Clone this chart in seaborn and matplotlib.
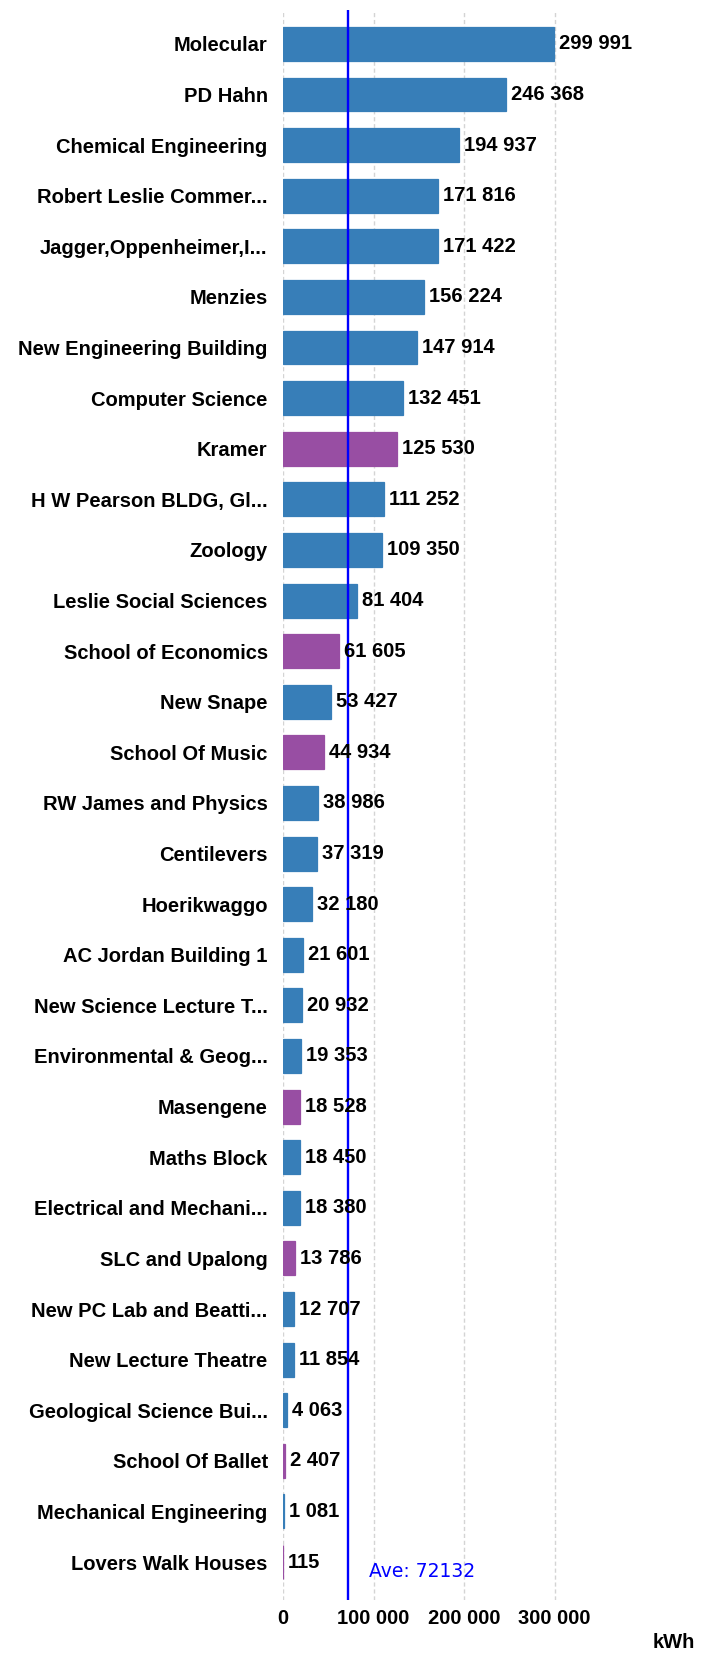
import numpy as np
import pandas as pd
import matplotlib
matplotlib.use("Agg")
import matplotlib.pyplot as plt
import seaborn as sns

buildings = [
    "Molecular", "PD Hahn", "Chemical Engineering", "Robert Leslie Commer...",
    "Jagger,Oppenheimer,I...", "Menzies", "New Engineering Building",
    "Computer Science", "Kramer", "H W Pearson BLDG, Gl...", "Zoology",
    "Leslie Social Sciences", "School of Economics", "New Snape",
    "School Of Music", "RW James and Physics", "Centilevers", "Hoerikwaggo",
    "AC Jordan Building 1", "New Science Lecture T...", "Environmental & Geog...",
    "Masengene", "Maths Block", "Electrical and Mechani...", "SLC and Upalong",
    "New PC Lab and Beatti...", "New Lecture Theatre", "Geological Science Bui...",
    "School Of Ballet", "Mechanical Engineering", "Lovers Walk Houses",
]
kwh = [
    299991, 246368, 194937, 171816, 171422, 156224, 147914, 132451, 125530,
    111252, 109350, 81404, 61605, 53427, 44934, 38986, 37319, 32180, 21601,
    20932, 19353, 18528, 18450, 18380, 13786, 12707, 11854, 4063, 2407, 1081, 115,
]
group = [
    "a", "a", "a", "a", "a", "a", "a", "a", "b", "a", "a", "a", "b", "a", "b",
    "a", "a", "a", "a", "a", "a", "b", "a", "a", "b", "a", "a", "a", "b", "a", "b",
]
average = 72132
x_ticks = [0, 100000, 200000, 300000]

df = pd.DataFrame({"building": buildings, "kwh": kwh, "group": group})

sns.set_style("white")
plt.rcParams["font.family"] = ["Liberation Sans", "DejaVu Sans"]
plt.rcParams["text.color"] = "black"
plt.rcParams["xtick.labelcolor"] = "black"
plt.rcParams["ytick.labelcolor"] = "black"

fig = plt.figure(figsize=(7.12, 16.54), dpi=100)
ax = fig.add_axes([283 / 712, 1 - 1600 / 1654, 362 / 712, 1590 / 1654])

sns.barplot(data=df, x="kwh", y="building", hue="group",
            palette={"a": "#377eb8", "b": "#984ea3"}, dodge=False,
            saturation=1, width=0.67, legend=False, ax=ax, zorder=2)

# thin outline in the bar colour so the tiny bars still show
for p in ax.patches:
    p.set_edgecolor(p.get_facecolor())
    p.set_linewidth(0.9)

ax.set_xlim(0, 400000)
ax.set_ylim(len(buildings) - 1 + 0.75, -0.67)
ax.set_xticks(x_ticks)
ax.set_xticklabels([f"{t:,}".replace(",", " ") for t in x_ticks],
                   fontsize=14.5, fontweight="bold", color="black")
ax.set_yticks(range(len(buildings)))
ax.set_yticklabels(buildings, fontsize=14.5, fontweight="bold", color="black")
ax.tick_params(axis="y", length=0, pad=11)
ax.tick_params(axis="x", length=1.5, color="#f5a04a", pad=5)
ax.set_xlabel("")
ax.set_ylabel("")
for s in ax.spines.values():
    s.set_visible(False)

ax.grid(axis="x", color="#d4d4d4", linestyle=(0, (3, 2)), linewidth=1, zorder=0)
ax.set_axisbelow(True)

ax.axvline(average, color="#0000ff", linewidth=1.7, zorder=3)

for i, v in enumerate(kwh):
    ax.annotate(f"{v:,}".replace(",", " "), xy=(v, i), xytext=(5, 0),
                textcoords="offset pixels", va="center", ha="left",
                fontsize=14.5, fontweight="bold", color="black", zorder=4)

ax.annotate(f"Ave: {average}", xy=(average, len(buildings) - 1),
            xytext=(21, -9), textcoords="offset pixels", va="center",
            ha="left", fontsize=13.5, color="#0000ff",
            family="DejaVu Sans", zorder=4)

fig.text(674 / 712, 1 - 1643 / 1654, "kWh", ha="center", va="center",
         fontsize=14.5, fontweight="bold", color="black")

fig.savefig("out.png", dpi=100)
